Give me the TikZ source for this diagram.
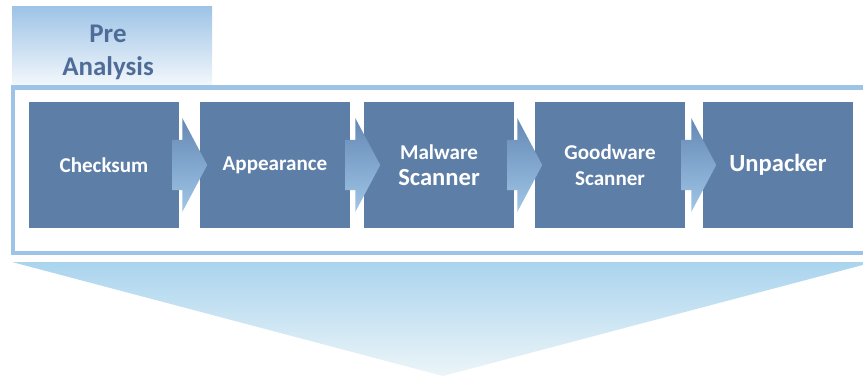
\documentclass[tikz,border=0pt]{standalone}
\usepackage{fontspec}
\setmainfont{Carlito}
\usetikzlibrary{shapes.arrows}

\definecolor{stepblue}{RGB}{93,126,167}
\definecolor{frameblue}{RGB}{157,195,230}
\definecolor{tabtext}{RGB}{79,108,153}

\begin{document}
\begin{tikzpicture}[
    x=0.03cm, y=-0.03cm,
    every node/.style={font=\bfseries},
    stepbox/.style={
        rectangle, fill=stepblue, text=white,
        minimum width=4.5cm, minimum height=3.78cm,
        align=center, inner sep=0pt,
        font=\fontsize{18}{22}\selectfont\bfseries
    },
    bigtxt/.style={font=\fontsize{21}{24}\selectfont\bfseries},
    flowarrow/.style={
        single arrow, draw=none,
        inner xsep=0pt, inner ysep=0.75cm,
        minimum height=1.05cm,
        single arrow head extend=0.65cm,
        single arrow tip angle=124,
        top color={rgb,255:red,100;green,136;blue,180},
        bottom color={rgb,255:red,160;green,198;blue,231},
        anchor=west
    }
]
\useasboundingbox (0,0) rectangle (863,378);

%% -- Pre Analysis tab -------------------------------------------
\shade[top color=frameblue, bottom color={rgb,255:red,244;green,248;blue,252}]
    (12,6) rectangle (212,86);
\node[text=tabtext, align=center,
      font=\fontsize{23}{28}\selectfont\bfseries]
    (pre) at (108,52) {Pre\\Analysis};

%% -- Frame round the steps --------------------------------------
\draw[frameblue, line width=3.8pt]
    (863,87.5) -- (13,87.5) -- (13,253) -- (863,253);

%% -- Steps --------------------------------------------------------
\node[stepbox] (chk)  at (104,165) {Checksum};
\node[stepbox] (app)  at (275,165) {Appearance};
\node[stepbox] (mal)  at (439,165) {Malware\\{\fontsize{21}{22}\selectfont Scanner}};
\node[stepbox] (good) at (610,165) {Goodware\\Scanner};
\node[stepbox, bigtxt] (unp) at (778,165) {Unpacker};

%% -- Arrows between the steps -------------------------------------
\node[flowarrow] (a1) at (172,165) {};
\node[flowarrow] (a2) at (345,165) {};
\node[flowarrow] (a3) at (507,165) {};
\node[flowarrow] (a4) at (681,165) {};

%% -- Funnel below -------------------------------------------------
\shade[top color={rgb,255:red,170;green,212;blue,238},
       bottom color={rgb,255:red,236;green,245;blue,248}]
    (12,262) -- (874,262) -- (443,376) -- cycle;

\end{tikzpicture}
\end{document}
